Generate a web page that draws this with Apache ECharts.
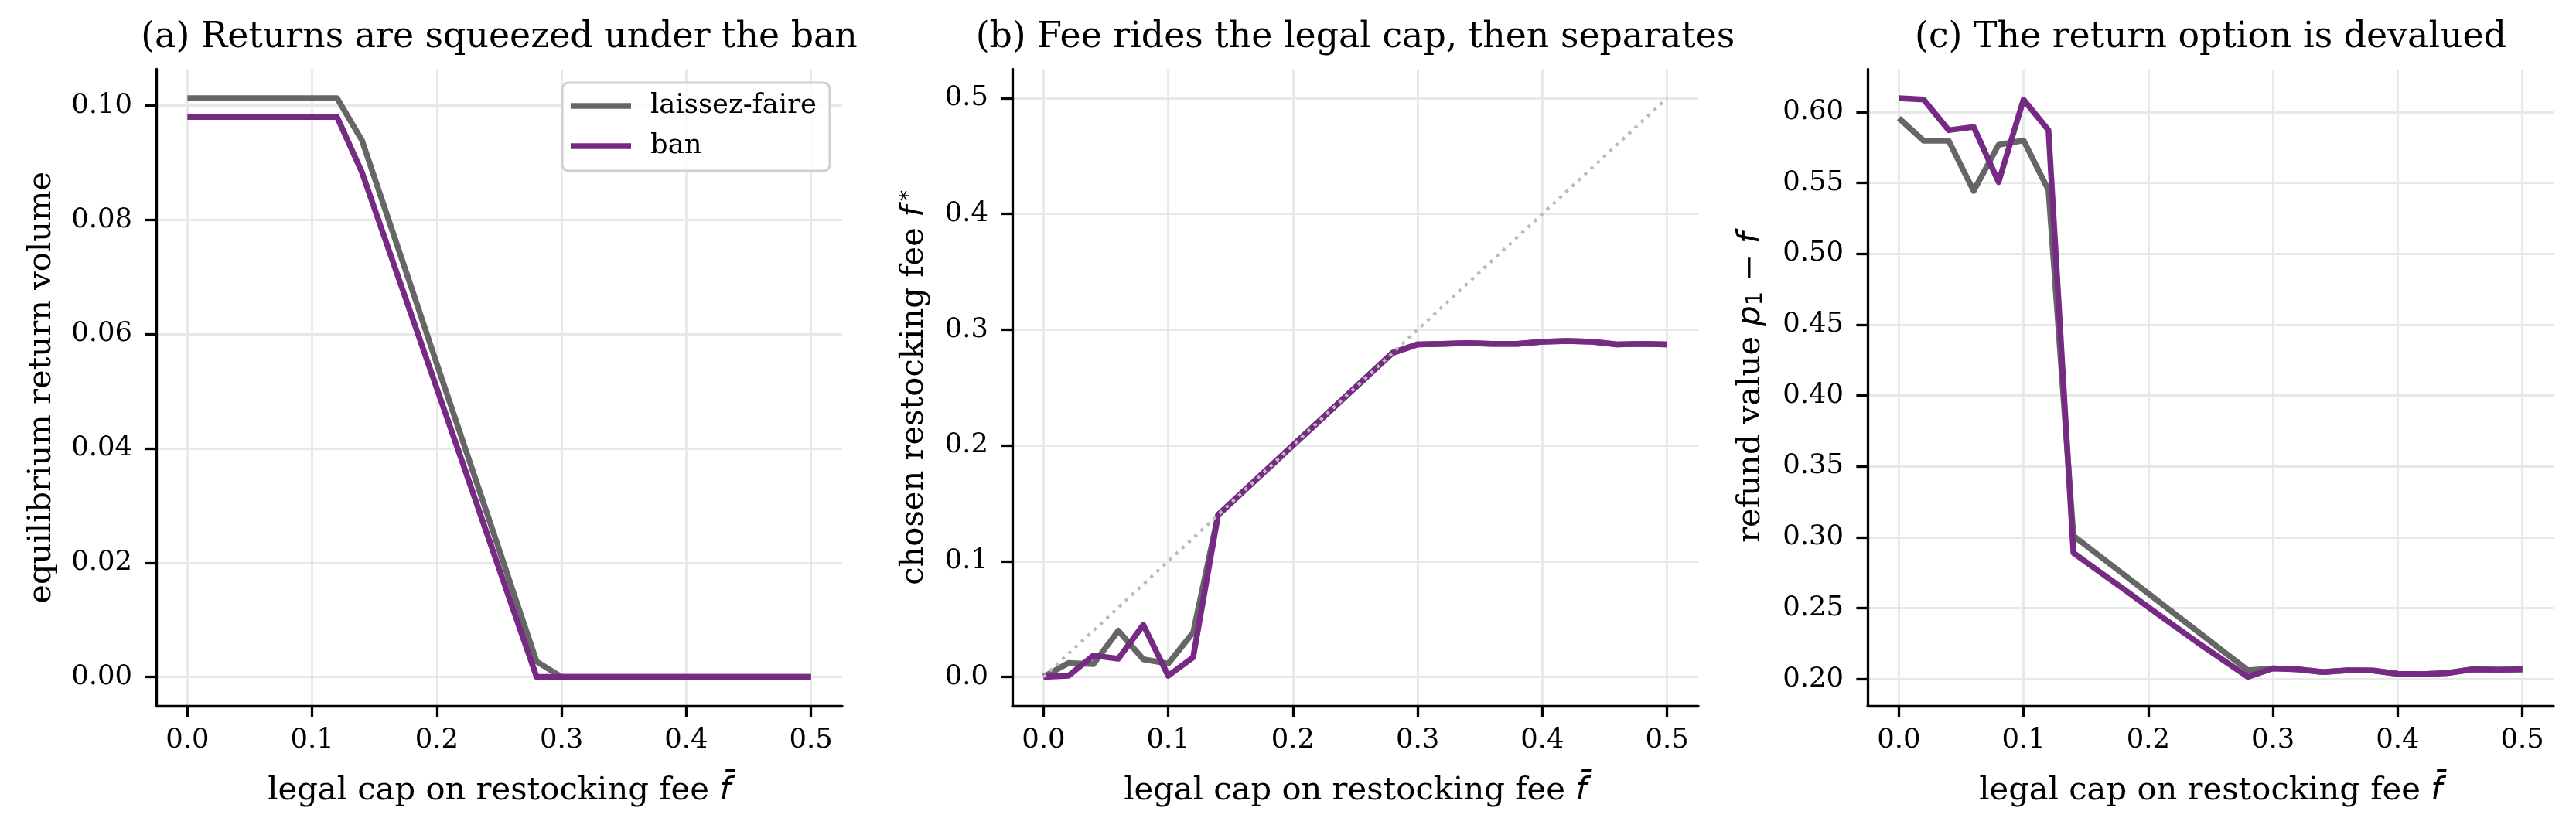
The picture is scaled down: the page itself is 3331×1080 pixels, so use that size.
<!DOCTYPE html>
<html><head><meta charset="utf-8">
<script src="https://cdn.jsdelivr.net/npm/echarts@6/dist/echarts.min.js"></script>
<style>html,body{margin:0;padding:0;background:#fff}#chart{width:3331px;height:1080px}</style>
</head><body><div id="chart"></div>
<script>
// ---------- data ----------
const capGrid = [0.00,0.02,0.04,0.06,0.08,0.10,0.12,0.14,0.16,0.18,0.20,0.22,0.24,0.26,0.28,0.30,0.32,0.34,0.36,0.38,0.40,0.42,0.44,0.46,0.48,0.50];
const seriesNames = ['laissez-faire', 'ban'];
const panelTitles = ['(a) Returns are squeezed under the ban', '(b) Fee rides the legal cap, then separates', '(c) The return option is devalued'];

const volLF  = [0.1013,0.1013,0.1013,0.1013,0.1013,0.1013,0.1013,0.0939,0.0809,0.0679,0.0548,0.0418,0.0288,0.0157,0.0027,0,0,0,0,0,0,0,0,0,0,0];
const volBan = [0.0980,0.0980,0.0980,0.0980,0.0980,0.0980,0.0980,0.0883,0.0757,0.0631,0.0505,0.0379,0.0252,0.0126,0.0000,0,0,0,0,0,0,0,0,0,0,0];

const feeLF  = [0,0.012,0.011,0.040,0.0152,0.0115,0.0383,0.140,0.160,0.180,0.200,0.220,0.240,0.260,0.280,0.2873,0.2877,0.2884,0.2877,0.2877,0.2896,0.2903,0.2896,0.2873,0.2877,0.2873];
const feeBan = [0,0.001,0.0185,0.0157,0.045,0.001,0.0169,0.140,0.160,0.180,0.200,0.220,0.240,0.260,0.280,0.2873,0.2877,0.2884,0.2877,0.2877,0.2896,0.2903,0.2896,0.2873,0.2877,0.2873];

const refLF  = [0.5957,0.5797,0.5797,0.5444,0.5769,0.5800,0.5449,0.3011,0.2875,0.2740,0.2604,0.2468,0.2333,0.2197,0.2062,0.2075,0.2069,0.2050,0.2062,0.2060,0.2037,0.2034,0.2043,0.2069,0.2066,0.2069];
const refBan = [0.6098,0.6088,0.5872,0.5895,0.5506,0.6088,0.5872,0.2890,0.2763,0.2637,0.2507,0.2381,0.2255,0.2135,0.2015,0.2075,0.2069,0.2050,0.2062,0.2060,0.2037,0.2034,0.2043,0.2069,0.2066,0.2069];

const capLineX = [0, 0.5];
const capLineY = [0, 0.5];

const xTicks   = [0, 0.1, 0.2, 0.3, 0.4, 0.5];
const volTicks = [0, 0.02, 0.04, 0.06, 0.08, 0.10];
const feeTicks = [0, 0.1, 0.2, 0.3, 0.4, 0.5];
const refTicks = [0.20, 0.25, 0.30, 0.35, 0.40, 0.45, 0.50, 0.55, 0.60];

// ---------- styling ----------
const SERIF = 'DejaVu Serif';
const MATH = 'DejaVu Sans';
const colors = ['#666666', '#762a83'];
const gridLefts = [202, 1309, 2415];
const gridW = 887, gridTop = 89.5, gridH = 823.5;
const tickFs = 35.4, labelFs = 41.7, titleFs = 45.8, legendFs = 35.4;

const richMath = {
  m: {fontFamily: MATH, fontStyle: 'italic', fontSize: labelFs, color: '#000'},
  n: {fontFamily: MATH, fontSize: labelFs, color: '#000'},
  sup: {fontFamily: MATH, fontSize: 29, color: '#000', verticalAlign: 'top', padding: [0, 0, 0, 6]},
  sub: {fontFamily: MATH, fontSize: 29, color: '#000', verticalAlign: 'bottom'}
};

const margin = e => e.min - 0.05 * (e.max - e.min);
const marginMax = e => e.max + 0.05 * (e.max - e.min);

function axisCommon() {
  return {
    type: 'value',
    min: margin, max: marginMax,
    axisLine: {show: true, onZero: false, lineStyle: {color: '#000', width: 3.3}},
    axisTick: {show: true, inside: false, length: 14.6, lineStyle: {color: '#000', width: 3.3}},
    splitLine: {show: true, lineStyle: {color: '#e8e8e8', width: 2.8}},
    nameLocation: 'middle',
    nameMoveOverlap: false,
    nameTextStyle: {fontFamily: SERIF, fontSize: labelFs, color: '#000', rich: richMath}
  };
}

const xLabel = 'legal cap on restocking fee {m|f\u0304}';
const yNames = ['equilibrium return volume', 'chosen restocking fee {m|f}{sup|*}', 'refund value {m|p}{sub|1}{n| \u2212 }{m|f}'];
const yTickSets = [volTicks, feeTicks, refTicks];
const yDigits = [2, 1, 2];
const yGaps = [127, 106, 130];

const grids = [], xAxes = [], yAxes = [], titles = [];
for (let i = 0; i < 3; i++) {
  grids.push({left: gridLefts[i], top: gridTop, width: gridW, height: gridH, outerBoundsMode: 'none', containLabel: false});
  const xa = axisCommon();
  Object.assign(xa, {
    gridIndex: i, name: xLabel, nameGap: 89,
    axisTick: Object.assign(xa.axisTick, {customValues: xTicks}),
    axisLabel: {customValues: xTicks, margin: 27, fontFamily: SERIF, fontSize: tickFs, color: '#000', formatter: v => v.toFixed(1)}
  });
  xAxes.push(xa);
  const ya = axisCommon();
  Object.assign(ya, {
    gridIndex: i, name: yNames[i], nameGap: yGaps[i], nameRotate: 90,
    axisTick: Object.assign(ya.axisTick, {customValues: yTickSets[i]}),
    axisLabel: {customValues: yTickSets[i], margin: 31, fontFamily: SERIF, fontSize: tickFs, color: '#000', formatter: v => v.toFixed(yDigits[i])}
  });
  yAxes.push(ya);
  titles.push({
    text: panelTitles[i], left: gridLefts[i] + gridW / 2, top: 26, textAlign: 'center', padding: 0,
    textStyle: {fontFamily: SERIF, fontSize: titleFs, fontWeight: 'normal', color: '#000'}
  });
}

const panelData = [[volLF, volBan], [feeLF, feeBan], [refLF, refBan]];
const series = [];
for (let i = 0; i < 3; i++) {
  for (let s = 0; s < 2; s++) {
    series.push({
      type: 'line', name: seriesNames[s], xAxisIndex: i, yAxisIndex: i,
      data: capGrid.map((x, k) => [x, panelData[i][s][k]]),
      showSymbol: false, symbol: 'none', animation: false,
      color: colors[s],
      itemStyle: {color: colors[s]},
      lineStyle: {color: colors[s], width: 7.5, join: 'round', cap: 'butt'},
      emphasis: {disabled: true}
    });
  }
}
series.push({
  type: 'line', name: 'cap', xAxisIndex: 1, yAxisIndex: 1,
  data: capLineX.map((x, k) => [x, capLineY[k]]),
  showSymbol: false, symbol: 'none', animation: false,
  lineStyle: {color: '#bbbbbb', width: 4.2, type: [4.2, 6.9]},
  emphasis: {disabled: true}
});

const chart = echarts.init(document.getElementById('chart'), null, {renderer: 'canvas'});
chart.setOption({
  animation: false,
  backgroundColor: '#ffffff',
  title: titles,
  grid: grids,
  xAxis: xAxes,
  yAxis: yAxes,
  legend: {
    data: seriesNames.map(n => ({name: n, icon: 'rect'})),
    orient: 'vertical', left: 727, top: 107,
    padding: [10, 17, 12, 11],
    itemWidth: 78, itemHeight: 7.5, itemGap: 12,
    borderColor: '#d0d0d0', borderWidth: 3, borderRadius: 8,
    backgroundColor: 'rgba(255,255,255,0.8)',
    itemStyle: {borderWidth: 0},
    lineStyle: {width: 0},
    textStyle: {fontFamily: SERIF, fontSize: legendFs, color: '#000', padding: [0, 0, 0, 20], lineHeight: 40},
    selectedMode: false
  },
  series: series
});
</script>
</body></html>
